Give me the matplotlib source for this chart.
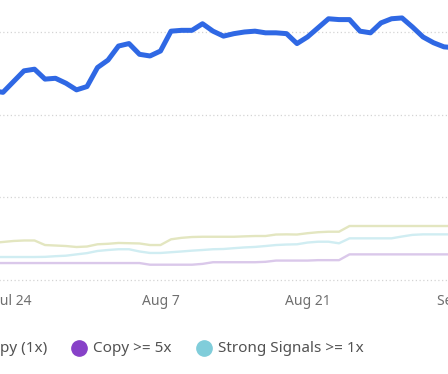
import matplotlib
matplotlib.use('Agg')
import matplotlib.pyplot as plt
from matplotlib.lines import Line2D
import numpy as np

# day offsets from Jul 24 (visible window runs Jul 22 .. Sep 5)
days = list(range(-2, 43))
tick_days = [0, 14, 28, 42]
tick_labels = ["Jul 24", "Aug 7", "Aug 21", "Sep 4"]

copy_1x = [229, 227, 240, 253, 255, 243, 244, 238, 230, 234,
           257, 266, 283, 286, 273, 271, 277, 301, 302, 302,
           310, 301, 295, 298, 300, 301, 299, 299, 298, 286,
           294, 305, 316, 315, 315, 301, 299, 311, 316, 317,
           306, 294, 287, 282, 281]

copy_5x = [20.5, 20.5, 20.5, 20.5, 20.5, 20.5, 20.5, 20.5, 20.5, 20.5,
           20.5, 20.5, 20.5, 20.5, 20.5, 18.5, 18.5, 18.5, 18.5, 18.5,
           19.5, 21.5, 21.5, 21.5, 21.5, 21.5, 22, 23.5, 23.5, 23.5,
           23.5, 24, 24, 24, 31, 31, 31, 31, 31, 31,
           31, 31, 31, 31, 31]

strong_1x = [27.8, 27.8, 27.8, 27.8, 27.8, 28, 28.8, 29.4, 31, 32.5,
             35.1, 36.3, 37.2, 37.2, 34.5, 32.7, 32.7, 33.6, 34.5, 35.5,
             36.3, 37.2, 37.5, 38.5, 39.4, 40, 41.1, 42.3, 42.9, 43.2,
             45.3, 46.3, 46.3, 44.4, 50.4, 50.4, 50.4, 50.4, 50.4, 52.6,
             54.6, 55.2, 55.2, 55.2, 55.2]

other = [44.8, 46, 47.2, 47.8, 47.8, 42.3, 41.7, 41.1, 39.9, 40.5,
         43.2, 43.8, 44.8, 44.5, 44.2, 42.3, 42.3, 49.2, 51, 52,
         52.3, 52.3, 52.3, 52.3, 52.8, 53.2, 53.2, 55, 55.2, 55,
         56.6, 57.8, 58.4, 58.4, 65.3, 65.3, 65.3, 65.3, 65.3, 65.3,
         65.3, 65.3, 65.3, 65.3, 65.3]

W, H = 448, 374
fig = plt.figure(figsize=(W / 100, H / 100), dpi=100)
plt.rcParams['font.family'] = ['Noto Sans', 'DejaVu Sans']

# axes deliberately larger than the canvas (reference is a crop)
px_per_unit = 82.67 / 100
ylo, yhi = -3, 400
x0_px = 13.5 - 10.5 * 2
ax = fig.add_axes([x0_px / W,
                   (H - (280 + (-ylo) * px_per_unit)) / H,
                   10.5 * 44 / W,
                   (yhi - ylo) * px_per_unit / H])

ax.plot(days, other, color='#e3e6c0', lw=1.7)
ax.plot(days, strong_1x, color='#d0edf2', lw=1.7)
ax.plot(days, copy_5x, color='#dac8ea', lw=1.7)
ax.plot(days, copy_1x, color='#2f68e4', lw=3.6, solid_joinstyle='round')

ax.set_xlim(-2, 42)
ax.set_ylim(ylo, yhi)
ax.set_yticks([0, 100, 200, 300])
ax.set_yticklabels([])
ax.set_xticks(tick_days)
ax.set_xticklabels(tick_labels, color='#6f6f6f', fontsize=10)
ax.tick_params(length=0, pad=8.5)
ax.grid(axis='y', color='#d4d4d4', linestyle=(0, (1, 2)), lw=0.9)
for s in ax.spines.values():
    s.set_visible(False)

# legend (first entry is cut off by the crop)
ly = 1 - 348 / H
leg = [(-33, "#3f6fe0", "Copy (1x)"), (79, "#8741c8", "Copy >= 5x"), (204, "#80cdda", "Strong Signals >= 1x")]
for mx, col, txt in leg:
    fig.add_artist(Line2D([mx / W], [ly], marker='o', markersize=11,
                          color=col, transform=fig.transFigure))
    fig.text((mx + 14) / W, ly, txt, color='#525252', fontsize=11,
             va='center', ha='left')

fig.savefig('out.png', dpi=100)
